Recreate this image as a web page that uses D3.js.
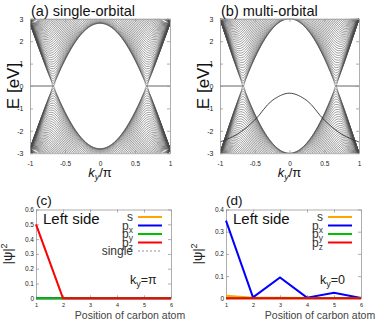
<!DOCTYPE html>
<html>
<head>
<meta charset="utf-8">
<script src="https://cdn.jsdelivr.net/npm/d3@7"></script>
<style>
  body { margin: 0; background: #fff; }
  text { font-family: "Liberation Sans", Arial, sans-serif; }
</style>
</head>
<body>
<div id="chart"></div>
<script>
// ---- band panels (a), (b) ----
// ky/pi grid for the right half; the left half and E<0 are mirror images
var kyGrid = [0, 0.1275, 0.2022, 0.2871, 0.4097, 0.5064, 0.5903, 0.6293, 0.6667, 0.7028, 0.738, 0.806, 0.8718, 0.9362, 1];
// band energies in units of the hopping, one row per band (null = off the plot)
var bandE = [
  [1, .96, .9, .8, .6, .4, .2, .1, 0, .1, .2, .4, .6, .8, 1],
  [1.002, .962, .902, .802, .602, .403, .205, .108, .039, .107, .203, .401, .601, .8, 1],
  [1.006, .966, .906, .807, .608, .411, .218, .13, .079, .125, .212, .405, .602, .801, 1],
  [1.014, .974, .915, .815, .618, .424, .238, .159, .118, .15, .226, .41, .605, .802, 1],
  [1.024, .985, .926, .827, .632, .441, .264, .193, .157, .179, .244, .418, .608, .803, 1],
  [1.038, .998, .94, .842, .649, .462, .293, .229, .196, .211, .266, .428, .613, .805, 1],
  [1.054, 1.015, .957, .86, .67, .487, .326, .266, .235, .244, .29, .439, .618, .807, 1],
  [1.072, 1.034, .976, .88, .693, .515, .361, .304, .274, .279, .316, .453, .625, .809, 1],
  [1.094, 1.055, .998, .903, .719, .545, .397, .343, .313, .313, .344, .468, .632, .812, 1],
  [null, 1.079, 1.022, .929, .747, .577, .434, .382, .352, .348, .373, .484, .64, .815, 1],
  [null, 1.105, 1.048, .956, .777, .611, .472, .421, .39, .383, .402, .501, .649, .819, 1],
  [null, null, 1.077, .985, .809, .646, .51, .461, .429, .419, .432, .52, .658, .823, 1],
  [null, null, 1.106, 1.016, .842, .682, .549, .5, .467, .454, .463, .539, .669, .827, 1],
  [null, null, 1.138, 1.048, .876, .719, .588, .539, .505, .489, .494, .559, .68, .831, 1],
  [null, null, null, 1.082, .912, .757, .627, .578, .543, .525, .525, .58, .691, .836, 1],
  [null, null, null, 1.117, .948, .795, .667, .617, .581, .56, .556, .602, .703, .841, 1],
  [null, null, null, 1.152, .985, .834, .706, .656, .618, .595, .588, .624, .716, .846, 1],
  [null, null, null, 1.189, 1.023, .872, .745, .694, .655, .63, .619, .646, .729, .852, 1],
  [null, null, null, 1.226, 1.061, .912, .784, .733, .692, .664, .651, .669, .743, .858, 1],
  [null, null, null, null, 1.1, .951, .823, .771, .729, .699, .682, .692, .757, .864, 1],
  [null, null, null, null, 1.139, .99, .862, .809, .765, .733, .713, .715, .771, .87, 1],
  [null, null, null, null, 1.178, 1.029, .9, .847, .802, .767, .744, .739, .785, .877, 1],
  [null, null, null, null, 1.217, 1.068, .939, .884, .837, .801, .775, .762, .8, .883, 1],
  [null, null, null, null, null, 1.108, .977, .921, .873, .834, .806, .786, .815, .89, 1],
  [null, null, null, null, null, 1.146, 1.015, .958, .908, .867, .836, .809, .831, .897, 1],
  [null, null, null, null, null, 1.185, 1.052, .994, .943, .9, .867, .833, .846, .904, 1],
  [null, null, null, null, null, null, 1.089, 1.03, .977, .932, .897, .856, .861, .912, 1],
  [null, null, null, null, null, null, 1.126, 1.065, 1.011, .965, .926, .88, .877, .919, 1],
  [null, null, null, null, null, null, null, 1.101, 1.045, .996, .956, .903, .893, .927, 1],
  [null, null, null, null, null, null, null, null, 1.078, 1.028, .985, .926, .908, .934, 1],
  [null, null, null, null, null, null, null, null, 1.111, 1.059, 1.014, .949, .924, .942, 1],
  [null, null, null, null, null, null, null, null, null, 1.089, 1.042, .972, .94, .95, 1],
  [null, null, null, null, null, null, null, null, null, 1.12, 1.07, .995, .955, .957, 1],
  [null, null, null, null, null, null, null, null, null, null, 1.098, 1.017, .971, .965, 1],
  [null, null, null, null, null, null, null, null, null, null, 1.125, 1.039, .987, .973, 1],
  [null, null, null, null, null, null, null, null, null, null, 1.152, 1.061, 1.002, .981, 1],
  [null, null, null, null, null, null, null, null, null, null, null, 1.083, 1.017, .989, 1],
  [null, null, null, null, null, null, null, null, null, null, null, 1.104, 1.032, .996, 1],
  [null, null, null, null, null, null, null, null, null, null, null, 1.125, 1.047, 1.004, 1],
  [null, null, null, null, null, null, null, null, null, null, null, 1.146, 1.062, 1.012, 1]
];
// ky/pi where the steep corner bands of (a) leave the frame at |E| = 3
var cornerKy = [.977, .977, .977, .976, .976, .975, .974, .973, .972, .970, .968, .965, .962, .958, .952, .945, .936, .925, .909, .889];
var hopping = [2.8, 3.0];           // eV, panels (a) and (b)
var flatKy = [0.667, 1];            // zero-energy edge band, |ky/pi|
var edgeKy = [-1, -0.75, -0.5, -0.25, 0, 0.25, 0.5, 0.75, 1];
var edgeE = [-2.5, -2.15, -1.52, -0.65, -0.32, -0.65, -1.52, -2.15, -2.5];
var kyTicks = [-1, -0.5, 0, 0.5, 1];
var eTicks = [-3, -2, -1, 0, 1, 2, 3];

// ---- wavefunction panels (c), (d) ----
var sites = [1, 2, 3, 4, 5, 6];
var cS = [0, 0, 0, 0, 0, 0];
var cPx = [0, 0, 0, 0, 0, 0];
var cPy = [0, 0, 0, 0, 0, 0];
var cPz = [0.5, 0, 0, 0, 0, 0];
var cSingle = [0.5, 0, 0, 0, 0, 0];
var dS = [0.012, 0.003, 0.002, 0.001, 0.001, 0.001];
var dPx = [0.35, 0.004, 0.094, 0.003, 0.025, 0.001];
var dPy = [0, 0, 0, 0, 0, 0];
var dPz = [0, 0, 0, 0, 0, 0];
var cTicks = [0, 0.1, 0.2, 0.3, 0.4, 0.5, 0.6];
var dTicks = [0, 0.1, 0.2, 0.3, 0.4];

var W = 382, H = 325;
var svg = d3.select("#chart").append("svg").attr("width", W).attr("height", H);

var bandTop = 18.8, bandBottom = 153.2;
var bandPanels = [
  { id: "a", title: "(a) single-orbital", left: 30, right: 170, hop: hopping[0], corner: true, edge: false },
  { id: "b", title: "(b) multi-orbital", left: 220, right: 359, hop: hopping[1], corner: false, edge: true }
];
bandPanels.forEach(drawBandPanel);

function frame(x, y, xTicks, yTicks, padX, padY, fsX, fsY) {
  var x0 = x.range()[0], x1 = x.range()[1], y0 = y.range()[0], y1 = y.range()[1];
  var gb = svg.append("g").attr("transform", `translate(0,${y0})`)
    .call(d3.axisBottom(x).tickValues(xTicks).tickSize(-3).tickSizeOuter(0).tickPadding(padX).tickFormat(d => String(d)));
  gb.selectAll("text").attr("font-size", fsX).attr("fill", "#222");
  svg.append("g").attr("transform", `translate(0,${y1})`)
    .call(d3.axisTop(x).tickValues(xTicks).tickSize(-3).tickSizeOuter(0).tickFormat(""));
  var gl = svg.append("g").attr("transform", `translate(${x0},0)`)
    .call(d3.axisLeft(y).tickValues(yTicks).tickSize(-3).tickSizeOuter(0).tickPadding(padY).tickFormat(d => String(d)));
  gl.selectAll("text").attr("font-size", fsY).attr("fill", "#222");
  svg.append("g").attr("transform", `translate(${x1},0)`)
    .call(d3.axisRight(y).tickValues(yTicks).tickSize(-3).tickSizeOuter(0).tickFormat(""));
  svg.selectAll(".domain").attr("stroke", "#999").attr("stroke-width", 0.8);
  svg.selectAll(".tick line").attr("stroke", "#999").attr("stroke-width", 0.8);
}

function drawBandPanel(p) {
  var x = d3.scaleLinear().domain([-1, 1]).range([p.left, p.right]);
  var y = d3.scaleLinear().domain([-3, 3]).range([bandBottom, bandTop]);

  svg.append("clipPath").attr("id", "clip-" + p.id)
    .append("rect").attr("x", p.left).attr("y", bandTop)
    .attr("width", p.right - p.left).attr("height", bandBottom - bandTop);
  var g = svg.append("g").attr("clip-path", "url(#clip-" + p.id + ")");

  var line = d3.line()
    .defined(d => d[1] !== null)
    .x(d => x(d[0])).y(d => y(d[1]))
    .curve(d3.curveMonotoneX);

  var fullKy = kyGrid.slice(1).reverse().map(k => -k).concat(kyGrid);
  bandE.forEach(function (row) {
    var fullE = row.slice(1).reverse().concat(row);
    [1, -1].forEach(function (sign) {
      g.append("path")
        .attr("d", line(fullKy.map((k, i) => [k, fullE[i] === null ? null : sign * p.hop * fullE[i]])))
        .attr("fill", "none").attr("stroke", "#4d4d4d").attr("stroke-width", 0.55);
    });
  });

  if (p.corner) {
    cornerKy.forEach(function (k) {
      [1, -1].forEach(function (sx) {
        [1, -1].forEach(function (sy) {
          g.append("path")
            .attr("d", d3.line()([[x(sx * k), y(sy * 3)], [x(sx), y(sy * p.hop)]]))
            .attr("fill", "none").attr("stroke", "#4d4d4d").attr("stroke-width", 0.55);
        });
      });
    });
  }

  [1, -1].forEach(function (sx) {
    g.append("path")
      .attr("d", d3.line()(flatKy.map(k => [x(sx * k), y(0)])))
      .attr("fill", "none").attr("stroke", "#555").attr("stroke-width", 0.9);
  });

  if (p.edge) {
    g.append("path")
      .attr("d", d3.line().curve(d3.curveCatmullRom)(edgeKy.map((k, i) => [x(k), y(edgeE[i])])))
      .attr("fill", "none").attr("stroke", "#333").attr("stroke-width", 0.9);
  }

  frame(x, y, kyTicks, eTicks, 8, 6.5, 6.5, 7);

  svg.append("text").attr("x", p.left + 1).attr("y", 15.5)
    .attr("font-size", 14.5).attr("fill", "#111").text(p.title);

  svg.append("text")
    .attr("transform", `translate(${p.left - 11},${(bandTop + bandBottom) / 2}) rotate(-90)`)
    .attr("text-anchor", "middle").attr("font-size", 17).attr("fill", "#111")
    .text("E [eV]");

  var kl = svg.append("text").attr("x", (p.left + p.right) / 2).attr("y", 177)
    .attr("text-anchor", "middle").attr("font-size", 13).attr("fill", "#111");
  kl.append("tspan").attr("font-style", "italic").text("k");
  kl.append("tspan").attr("font-style", "italic").attr("font-size", 9).attr("dy", 3).text("y");
  kl.append("tspan").attr("dy", -3).text("/π");
}

var wfTop = 209.5, wfBottom = 298.3;
var wfPanels = [
  { id: "c", left: 36, right: 171, ymax: 0.6, ticks: cTicks, ky: "π",
    series: [["s", cS, "#ffa500"], ["p", cPx, "#0000ff", "x"], ["p", cPy, "#00c000", "y"], ["p", cPz, "#ff0000", "z"], ["single", cSingle, "#c8c8c8"]] },
  { id: "d", left: 226, right: 361, ymax: 0.4, ticks: dTicks, ky: "0",
    series: [["s", dS, "#ffa500"], ["p", dPx, "#0000ff", "x"], ["p", dPy, "#00c000", "y"], ["p", dPz, "#ff0000", "z"]] }
];
wfPanels.forEach(drawWfPanel);

function drawWfPanel(p) {
  var x = d3.scaleLinear().domain([1, 6]).range([p.left, p.right]);
  var y = d3.scaleLinear().domain([0, p.ymax]).range([wfBottom, wfTop]);

  frame(x, y, sites, p.ticks, 5, 2, 5.5, 6.5);

  var line = d3.line().x((d, i) => x(sites[i])).y(d => y(d));
  // the single-orbital curve sits underneath the multi-orbital ones
  var order = p.series.slice().sort((a, b) => (b[0] === "single") - (a[0] === "single"));
  order.forEach(function (s) {
    svg.append("path").attr("d", line(s[1]))
      .attr("fill", "none").attr("stroke", s[2]).attr("stroke-width", 2)
      .attr("stroke-dasharray", s[0] === "single" ? "2,2" : null);
  });

  var rowY = [217, 225.5, 234, 242.5, 251];
  p.series.forEach(function (s, i) {
    var t = svg.append("text").attr("x", p.left + 97).attr("y", rowY[i] + 4)
      .attr("text-anchor", "end").attr("font-size", 12).attr("fill", "#333");
    t.append("tspan").text(s[0]);
    if (s[3]) t.append("tspan").attr("font-size", 8.5).attr("dy", 3).text(s[3]);
    svg.append("line").attr("x1", p.left + 102).attr("x2", p.left + 126)
      .attr("y1", rowY[i]).attr("y2", rowY[i])
      .attr("stroke", s[2]).attr("stroke-width", 2)
      .attr("stroke-dasharray", s[0] === "single" ? "2,2" : null);
  });

  svg.append("text").attr("x", p.left).attr("y", 205)
    .attr("font-size", 13.5).attr("fill", "#111").text("(" + p.id + ")");
  svg.append("text").attr("x", p.left + 7).attr("y", 223.5)
    .attr("font-size", 15).attr("fill", "#111").text("Left side");

  var kt = svg.append("text").attr("x", p.left + 94).attr("y", 284)
    .attr("font-size", 12.5).attr("fill", "#222");
  kt.append("tspan").text("k");
  kt.append("tspan").attr("font-size", 9).attr("dy", 3).text("y");
  kt.append("tspan").attr("dy", -3).text("=" + p.ky);

  var yl = svg.append("text")
    .attr("transform", `translate(${p.left - 24},${(wfTop + wfBottom) / 2}) rotate(-90)`)
    .attr("text-anchor", "middle").attr("font-size", 13).attr("fill", "#222");
  yl.append("tspan").text("|ψ|");
  yl.append("tspan").attr("font-size", 9).attr("dy", -5).text("2");

  svg.append("text").attr("x", p.left + 94).attr("y", 318.5)
    .attr("text-anchor", "middle").attr("font-size", 10.5).attr("fill", "#444")
    .text("Position of carbon atom");
}
</script>
</body>
</html>
